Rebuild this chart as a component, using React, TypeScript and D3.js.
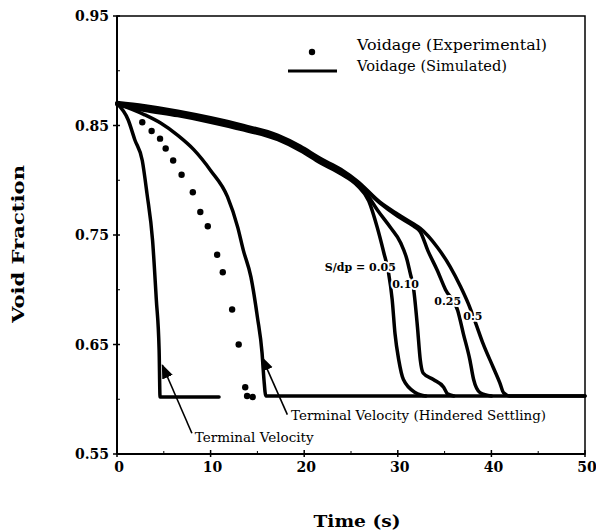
import React from "react";
import * as d3 from "d3";

// ---- data (time s, void fraction) ----
const xTicks = [0, 10, 20, 30, 40, 50];
const xMinorTicks = [5, 15, 25, 35, 45];
const yTicks = [0.55, 0.65, 0.75, 0.85, 0.95];
const yMinorTicks = [0.6, 0.7, 0.8, 0.9];

const experimental: [number, number][] = [
  [2.7, 0.853], [3.7, 0.845], [4.6, 0.838], [5.2, 0.829], [6.0, 0.818], [6.9, 0.805],
  [8.1, 0.789], [8.9, 0.771], [9.7, 0.758], [10.7, 0.732], [11.3, 0.716],
  [12.3, 0.682], [13.0, 0.65], [13.7, 0.611], [13.9, 0.603], [14.5, 0.602],
];

const terminal: [number, number][] = [
  [0, 0.87], [1.2, 0.855], [1.9, 0.837], [2.7, 0.818], [3.2, 0.788], [3.8, 0.745],
  [4.2, 0.691], [4.5, 0.645], [4.6, 0.602], [10.9, 0.602],
];

const hindered: [number, number][] = [
  [0, 0.87], [2.9, 0.86], [4.7, 0.852], [6.5, 0.841], [8.2, 0.828], [10.0, 0.809],
  [11.8, 0.785], [12.9, 0.757], [13.5, 0.736], [14.3, 0.712], [15.0, 0.675],
  [15.5, 0.642], [15.7, 0.618], [15.9, 0.603], [50, 0.603],
];

const sim005: [number, number][] = [
  [0, 0.869], [2.9, 0.864], [6.5, 0.859], [10, 0.853], [13.5, 0.846], [17.2, 0.837],
  [19.6, 0.827], [21.7, 0.816], [23.9, 0.806], [25.7, 0.795], [26.9, 0.781],
  [27.8, 0.757], [28.5, 0.734], [29.0, 0.716], [29.4, 0.691], [29.7, 0.66],
  [30.1, 0.636], [30.6, 0.618], [31.9, 0.606], [33, 0.603],
];
const sim010: [number, number][] = [
  [0, 0.87], [2.9, 0.865], [6.5, 0.86], [10, 0.854], [13.5, 0.847], [17.2, 0.838],
  [19.6, 0.828], [21.7, 0.817], [23.9, 0.807], [25.7, 0.797], [26.8, 0.786],
  [27.8, 0.773], [29.2, 0.757], [30.3, 0.743], [31.0, 0.727], [31.3, 0.716],
  [31.7, 0.7], [32.1, 0.666], [32.4, 0.636], [32.7, 0.624], [33.8, 0.618],
  [34.9, 0.611], [35.3, 0.605], [36, 0.603],
];
const sim025: [number, number][] = [
  [0, 0.87], [2.9, 0.867], [6.5, 0.862], [10, 0.856], [13.5, 0.849], [17.2, 0.84],
  [19.6, 0.83], [21.7, 0.819], [23.9, 0.809], [25.7, 0.798], [28.1, 0.779],
  [30.0, 0.767], [31.7, 0.758], [32.4, 0.753], [33.2, 0.736], [34.2, 0.718],
  [35.1, 0.7], [36.4, 0.681], [37.0, 0.66], [37.7, 0.636], [38.1, 0.618],
  [38.8, 0.606], [40, 0.603],
];
const sim05: [number, number][] = [
  [0, 0.871], [2.9, 0.868], [6.5, 0.863], [10, 0.857], [13.5, 0.85], [17.2, 0.841],
  [19.6, 0.831], [21.7, 0.82], [23.9, 0.81], [25.7, 0.799], [28.1, 0.78],
  [30.0, 0.769], [31.7, 0.76], [32.4, 0.756], [34.2, 0.739], [35.6, 0.721],
  [36.7, 0.703], [37.5, 0.688], [38.3, 0.67], [39.1, 0.651], [40.2, 0.629],
  [40.9, 0.615], [41.3, 0.606], [42, 0.603], [50, 0.603],
];

const curveLabels = [
  { text: "S/dp = 0.05", t: 22.2, v: 0.717 },
  { text: "0.10", t: 29.4, v: 0.7015 },
  { text: "0.25", t: 33.9, v: 0.686 },
  { text: "0.5", t: 37.0, v: 0.672 },
];

const annotations = [
  { text: "Terminal Velocity", len: 119, tip: [4.85, 0.631], tail: [8.0, 0.569], at: [8.3, 0.561] },
  { text: "Terminal Velocity (Hindered Settling)", len: 255, tip: [15.5, 0.638], tail: [18.2, 0.586], at: [18.6, 0.581] },
];

const W = 596, H = 532;
const left = 117, right = 585, top = 16, bottom = 454;

export default function App() {
  const x = d3.scaleLinear().domain([0, 50]).range([left, right]);
  const y = d3.scaleLinear().domain([0.55, 0.95]).range([bottom, top]);
  const line = d3.line<[number, number]>().x((d) => x(d[0])).y((d) => y(d[1])).curve(d3.curveMonotoneX);
  const serif = "'DejaVu Serif', serif";
  const curves = [terminal, hindered, sim005, sim010, sim025, sim05];

  return (
    <svg width={W} height={H} style={{ position: "absolute", left: 0, top: 0, background: "#fff" }} fontFamily={serif}>
      <rect x={0} y={0} width={W} height={H} fill="#fff" />
      <defs>
        <marker id="arr" viewBox="0 0 10 10" refX="9" refY="5" markerWidth="9" markerHeight="9" orient="auto">
          <path d="M0,1 L10,5 L0,9 Z" fill="#000" />
        </marker>
      </defs>

      {/* frame */}
      <rect x={left} y={top} width={right - left} height={bottom - top} fill="none" stroke="#000" strokeWidth={1.5} />
      <line x1={left} x2={left} y1={top} y2={bottom} stroke="#000" strokeWidth={2} />
      <line x1={left} x2={right} y1={bottom} y2={bottom} stroke="#000" strokeWidth={2} />

      {/* y ticks */}
      {yTicks.map((v) => (
        <g key={"y" + v}>
          <line x1={left - 4} x2={left + 3} y1={y(v)} y2={y(v)} stroke="#000" strokeWidth={1.5} />
          <text x={left - 8} y={y(v)} dy="0.36em" textAnchor="end" fontSize={14} fontWeight="bold">
            {v.toFixed(2)}
          </text>
        </g>
      ))}
      {yMinorTicks.map((v) => (
        <line key={"ym" + v} x1={left} x2={left + 3} y1={y(v)} y2={y(v)} stroke="#000" strokeWidth={1} />
      ))}
      {/* x ticks */}
      {xTicks.map((t) => (
        <g key={"x" + t}>
          <line x1={x(t)} x2={x(t)} y1={bottom - 4} y2={bottom + 3} stroke="#000" strokeWidth={1.5} />
          <text x={x(t) + 2} y={bottom + 18} textAnchor="middle" fontSize={14} fontWeight="bold">
            {t}
          </text>
        </g>
      ))}
      {xMinorTicks.map((t) => (
        <line key={"xm" + t} x1={x(t)} x2={x(t)} y1={bottom - 3} y2={bottom} stroke="#000" strokeWidth={1} />
      ))}

      {/* axis titles */}
      <text transform={`translate(24,244) rotate(-90)`} textAnchor="middle" fontSize={17} fontWeight="bold"
        textLength={158} lengthAdjust="spacingAndGlyphs">
        Void Fraction
      </text>
      <text x={357} y={527} textAnchor="middle" fontSize={17} fontWeight="bold" textLength={87} lengthAdjust="spacingAndGlyphs">
        Time (s)
      </text>

      {/* simulated curves */}
      {curves.map((c, i) => (
        <path key={"c" + i} d={line(c) || ""} fill="none" stroke="#000" strokeWidth={3.5} strokeLinejoin="round" strokeLinecap="round" />
      ))}

      {/* experimental points */}
      {experimental.map((d, i) => (
        <circle key={"p" + i} cx={x(d[0])} cy={y(d[1])} r={3.2} fill="#000" />
      ))}

      {/* curve labels */}
      {curveLabels.map((l) => (
        <text key={l.text} x={x(l.t)} y={y(l.v)} fontSize={11} fontWeight="bold" stroke="#fff" strokeWidth={4} paintOrder="stroke" strokeLinejoin="round">
          {l.text}
        </text>
      ))}

      {/* annotations */}
      {annotations.map((a) => (
        <g key={a.text}>
          <line x1={x(a.tail[0])} y1={y(a.tail[1])} x2={x(a.tip[0])} y2={y(a.tip[1])} stroke="#000" strokeWidth={1.6} markerEnd="url(#arr)" />
          <text x={x(a.at[0])} y={y(a.at[1])} fontSize={12.5} textLength={a.len} lengthAdjust="spacingAndGlyphs">
            {a.text}
          </text>
        </g>
      ))}

      {/* legend */}
      <circle cx={312} cy={52} r={3.2} fill="#000" />
      <line x1={288} x2={337} y1={71} y2={71} stroke="#000" strokeWidth={3} />
      <text x={357} y={50} fontSize={14.5} textLength={190} lengthAdjust="spacingAndGlyphs">Voidage (Experimental)</text>
      <text x={357} y={71} fontSize={14.5} textLength={150} lengthAdjust="spacingAndGlyphs">Voidage (Simulated)</text>
    </svg>
  );
}
